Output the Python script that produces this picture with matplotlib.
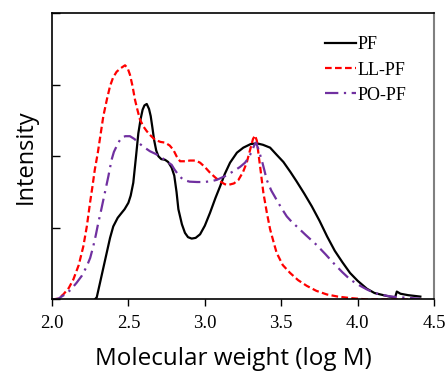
import matplotlib
matplotlib.use("Agg")
import matplotlib.pyplot as plt

# molecular weight (log M) and intensity
pf_x = [2.28, 2.293, 2.314, 2.337, 2.358, 2.38, 2.401, 2.43, 2.456, 2.475, 2.50,
        2.515, 2.532, 2.55, 2.565, 2.58, 2.593, 2.605, 2.62, 2.635, 2.646, 2.657,
        2.668, 2.682, 2.696, 2.715, 2.74, 2.76, 2.783, 2.80, 2.815, 2.827, 2.85,
        2.87, 2.89, 2.914, 2.94, 2.969, 3.0, 3.034, 3.07, 3.10, 3.13, 3.165,
        3.21, 3.252, 3.30, 3.34, 3.38, 3.427, 3.47, 3.514, 3.56, 3.60, 3.65,
        3.70, 3.75, 3.80, 3.85, 3.90, 3.95, 4.0, 4.06, 4.11, 4.168, 4.21,
        4.245, 4.256, 4.28, 4.33, 4.41]
pf_y = [0.0, 0.03, 0.23, 0.45, 0.65, 0.86, 1.02, 1.14, 1.21, 1.26, 1.35,
        1.45, 1.63, 2.0, 2.32, 2.52, 2.65, 2.71, 2.73, 2.66, 2.56, 2.40,
        2.23, 2.08, 2.0, 1.96, 1.95, 1.92, 1.84, 1.73, 1.50, 1.26, 1.05,
        0.93, 0.87, 0.85, 0.86, 0.91, 1.03, 1.21, 1.42, 1.58, 1.75, 1.91,
        2.05, 2.12, 2.17, 2.18, 2.16, 2.12, 2.02, 1.92, 1.78, 1.65, 1.48,
        1.30, 1.10, 0.88, 0.68, 0.52, 0.37, 0.26, 0.15, 0.09, 0.06, 0.04,
        0.03, 0.11, 0.08, 0.06, 0.04]

ll_x = [2.0, 2.04, 2.074, 2.11, 2.14, 2.175, 2.205, 2.228, 2.249, 2.265, 2.28,
        2.30, 2.336, 2.36, 2.38, 2.40, 2.423, 2.45, 2.478, 2.495, 2.51, 2.527,
        2.543, 2.56, 2.576, 2.60, 2.62, 2.645, 2.674, 2.71, 2.74, 2.77, 2.794,
        2.815, 2.838, 2.87, 2.903, 2.94, 2.969, 3.0, 3.034, 3.07, 3.10, 3.13,
        3.154, 3.19, 3.22, 3.25, 3.274, 3.295, 3.315, 3.328, 3.34, 3.35, 3.365,
        3.383, 3.405, 3.427, 3.45, 3.47, 3.51, 3.558, 3.61, 3.667, 3.73, 3.798,
        3.87, 3.95, 4.06, 4.42]
ll_y = [0.0, 0.01, 0.07, 0.16, 0.28, 0.48, 0.74, 1.02, 1.35, 1.58, 1.81,
        2.05, 2.56, 2.80, 2.98, 3.10, 3.18, 3.23, 3.27, 3.23, 3.14, 2.98,
        2.79, 2.64, 2.51, 2.41, 2.35, 2.29, 2.23, 2.20, 2.19, 2.15, 2.09,
        2.0, 1.93, 1.93, 1.94, 1.94, 1.91, 1.85, 1.77, 1.70, 1.65, 1.61,
        1.60, 1.62, 1.67, 1.78, 1.91, 2.08, 2.24, 2.29, 2.22, 2.05, 1.80,
        1.49, 1.22, 0.98, 0.80, 0.65, 0.48, 0.37, 0.27, 0.19, 0.12, 0.07,
        0.04, 0.02, 0.0, 0.0]

po_x = [2.0, 2.04, 2.085, 2.12, 2.16, 2.195, 2.227, 2.25, 2.27, 2.287, 2.303,
        2.32, 2.336, 2.353, 2.369, 2.39, 2.405, 2.423, 2.44, 2.456, 2.48, 2.51,
        2.54, 2.565, 2.60, 2.641, 2.68, 2.718, 2.75, 2.783, 2.80, 2.83, 2.86,
        2.90, 2.95, 2.99, 3.04, 3.078, 3.13, 3.187, 3.23, 3.263, 3.29, 3.307,
        3.325, 3.335, 3.35, 3.372, 3.39, 3.405, 3.435, 3.47, 3.50, 3.536, 3.57,
        3.601, 3.66, 3.732, 3.79, 3.841, 3.90, 3.95, 4.0, 4.06, 4.11, 4.168,
        4.22, 4.278, 4.41]
po_y = [0.0, 0.01, 0.07, 0.13, 0.23, 0.33, 0.46, 0.58, 0.74, 0.90, 1.07,
        1.23, 1.39, 1.56, 1.72, 1.95, 2.06, 2.14, 2.21, 2.26, 2.28, 2.28,
        2.24, 2.19, 2.13, 2.07, 2.03, 1.98, 1.93, 1.88, 1.82, 1.73, 1.67,
        1.645, 1.64, 1.64, 1.65, 1.67, 1.72, 1.79, 1.85, 1.91, 1.99, 2.07,
        2.16, 2.19, 2.10, 1.95, 1.80, 1.67, 1.52, 1.39, 1.28, 1.16, 1.08,
        1.02, 0.90, 0.76, 0.63, 0.51, 0.38, 0.28, 0.21, 0.14, 0.09, 0.06,
        0.04, 0.03, 0.01]

labels = ['PF', 'LL-PF', 'PO-PF']
x_ticks = [2.0, 2.5, 3.0, 3.5, 4.0, 4.5]

fig = plt.figure(figsize=(4.48, 3.72), dpi=100)
ax = fig.add_axes([0.116, 0.195, 0.853, 0.77])

ax.plot(pf_x, pf_y, color='black', lw=1.6, label=labels[0])
ax.plot(ll_x, ll_y, color='#ff0000', lw=1.6, ls=(0, (3, 1.5)), label=labels[1])
ax.plot(po_x, po_y, color='#7030a0', lw=1.6, ls=(0, (6, 2.5, 1, 2.5)), label=labels[2])

ax.set_xlim(2.0, 4.5)
ax.set_ylim(0, 4)
ax.set_xticks(x_ticks)
ax.set_xticklabels(['%.1f' % t for t in x_ticks], family='Liberation Serif', fontsize=13.5)
ax.set_yticks([0, 1, 2, 3, 4])
ax.set_yticklabels([])
ax.tick_params(axis='x', direction='out', length=5, width=1, pad=6)
ax.tick_params(axis='y', direction='in', length=6, width=1)
ax.spines['right'].set_color('#808080')
ax.spines['right'].set_linewidth(1.5)
for s in ['left', 'bottom', 'top']:
    ax.spines[s].set_linewidth(1.2)

ax.set_xlabel('Molecular weight (log M)', family='Open Sans', fontsize=17.5)
ax.xaxis.set_label_coords(0.474, -0.165)
ax.set_ylabel('Intensity', family='Open Sans', fontsize=17, labelpad=7)

leg = ax.legend(loc='upper right', frameon=False, prop={'family': 'Liberation Serif', 'size': 13},
                handlelength=1.7, handletextpad=0.1, labelspacing=0.45,
                bbox_to_anchor=(0.97, 0.975))

fig.savefig('out.png', dpi=100)
